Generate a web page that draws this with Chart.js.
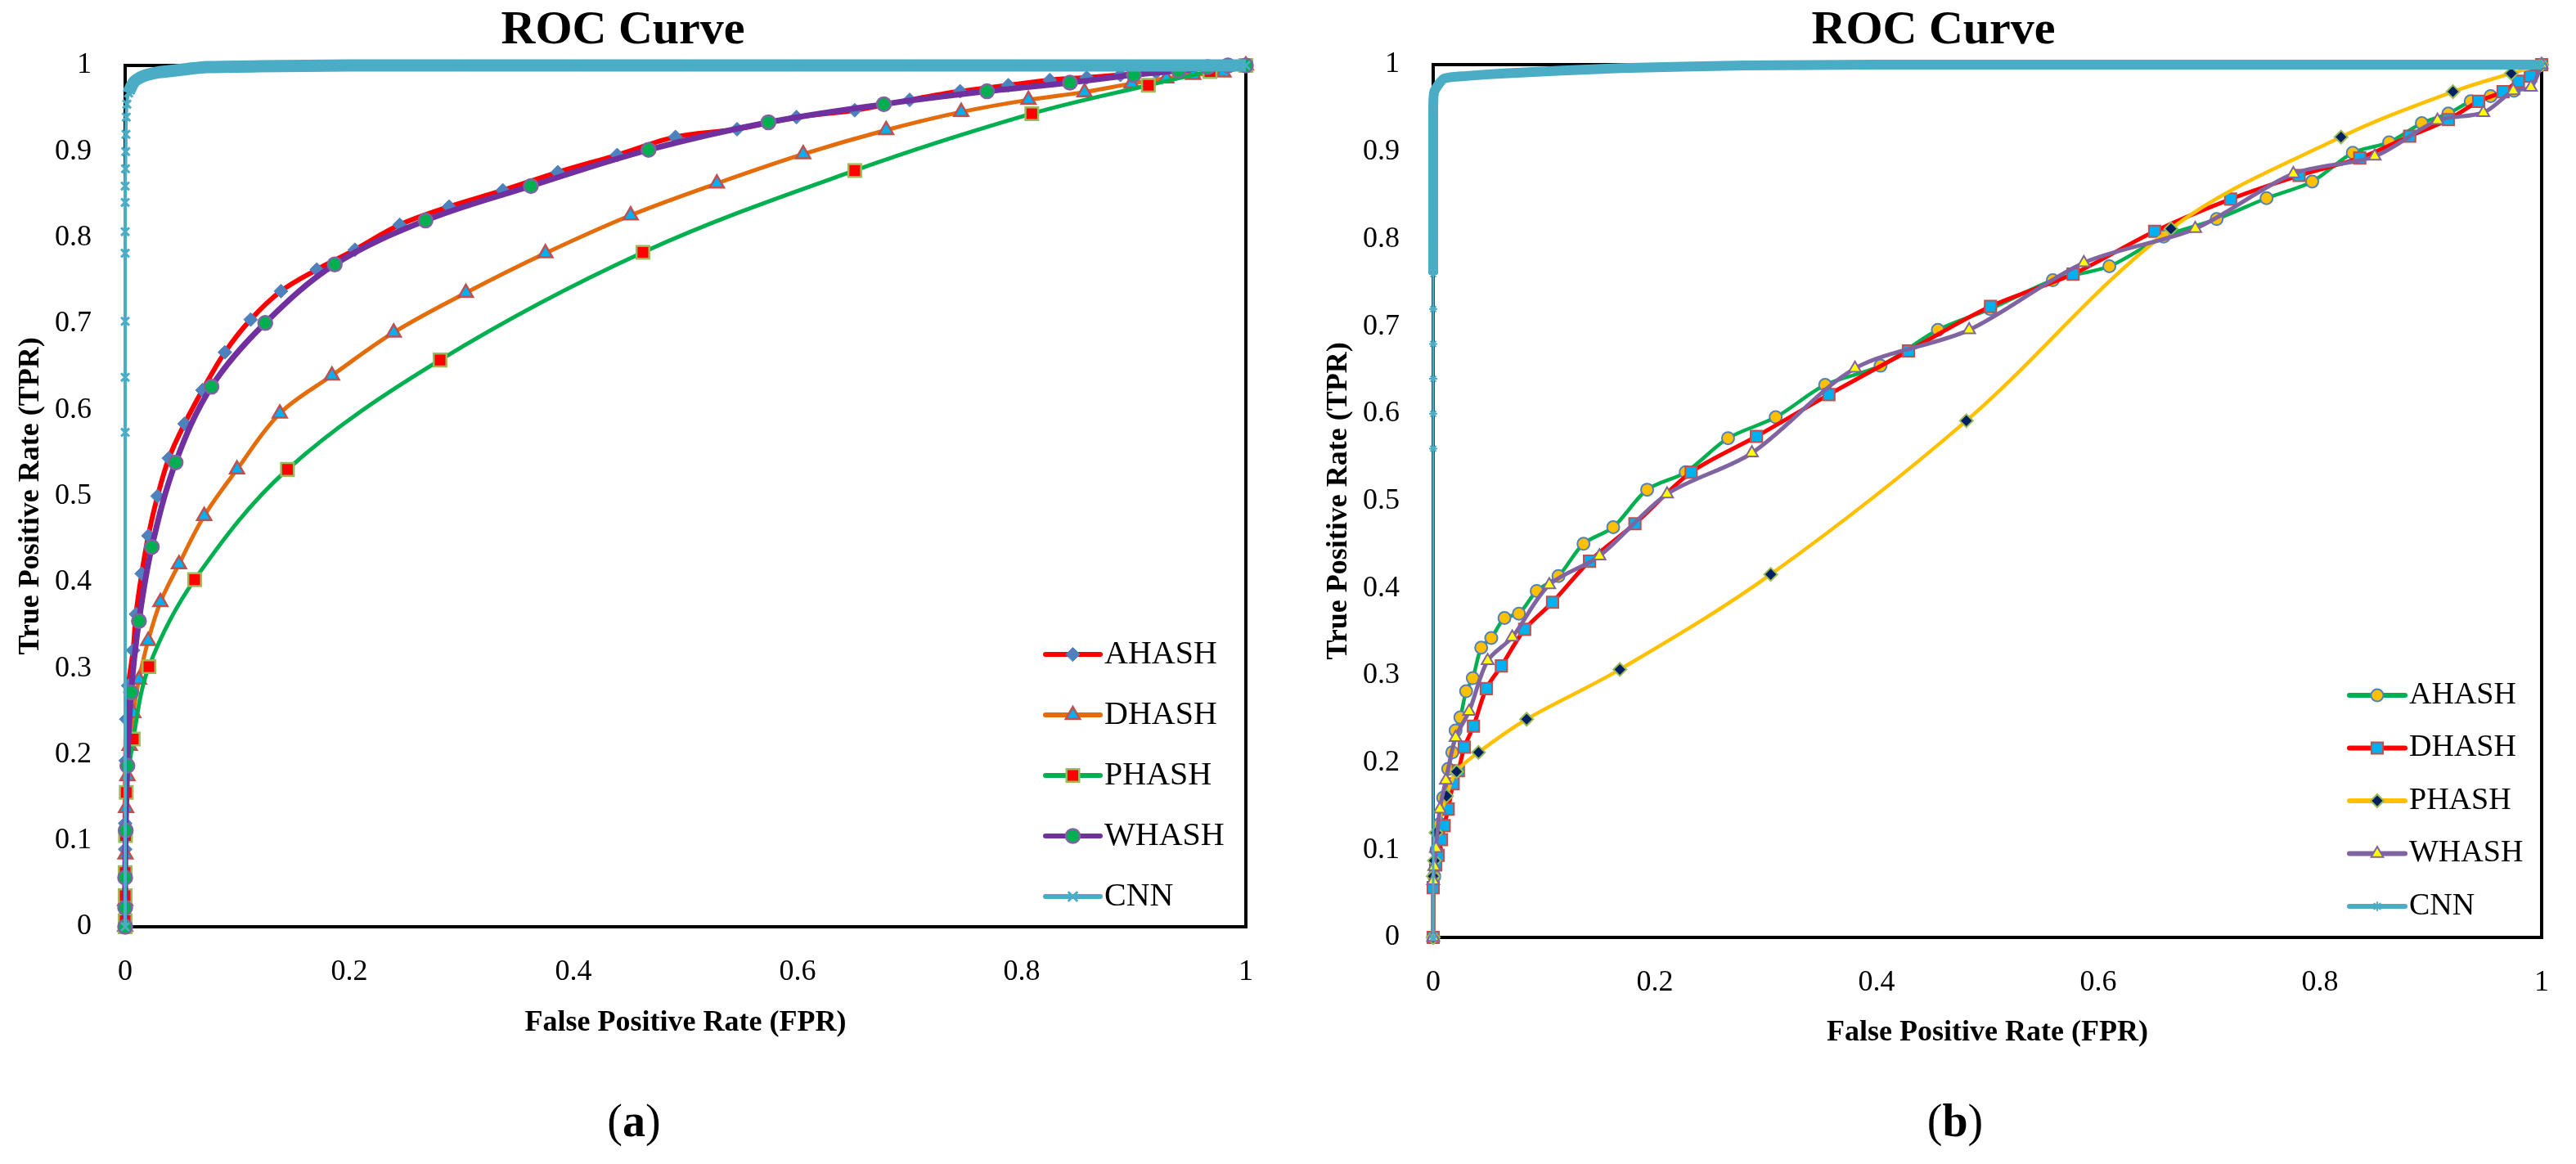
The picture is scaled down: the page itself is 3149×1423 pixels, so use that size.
<!DOCTYPE html>
<html>
<head>
<meta charset="utf-8">
<script src="https://cdn.jsdelivr.net/npm/chart.js@4.4.1/dist/chart.umd.min.js"></script>
<style>
  html, body { margin: 0; padding: 0; background: #fff; }
  body { width: 3149px; height: 1423px; position: relative; overflow: hidden; }
  canvas { position: absolute; top: 0; }
  #chartA { left: 0; }
  #chartB { left: 1610px; }
  .cap { position: absolute; top: 1336px; width: 400px; text-align: center;
         font: 56px "Liberation Serif", serif; line-height: 68px; color: #000; }
</style>
</head>
<body>
<canvas id="chartA" width="1570" height="1272"></canvas>
<canvas id="chartB" width="1540" height="1284"></canvas>
<div class="cap" style="left:575px">(<b>a</b>)</div>
<div class="cap" style="left:2190px">(<b>b</b>)</div>
<script>
// ---- data: [FPR, TPR] pairs ----
const seriesNames = ["AHASH", "DHASH", "PHASH", "WHASH", "CNN"];
const xTickValues = [0, 0.2, 0.4, 0.6, 0.8, 1];
const yTickValues = [0, 0.1, 0.2, 0.3, 0.4, 0.5, 0.6, 0.7, 0.8, 0.9, 1];

// (a)
const aAhash = [[0,0],[0,0.04],[0,0.09],[0,0.12],[0.0005,0.193],[0.001,0.241],[0.0028,0.28],[0.0071,0.321],[0.0097,0.363],[0.0148,0.41],[0.0207,0.454],[0.0289,0.5],[0.039,0.544],[0.053,0.584],[0.069,0.623],[0.089,0.667],[0.112,0.705],[0.139,0.738],[0.171,0.763],[0.205,0.786],[0.245,0.815],[0.289,0.836],[0.337,0.855],[0.386,0.876],[0.439,0.896],[0.491,0.917],[0.546,0.926],[0.599,0.94],[0.651,0.948],[0.7,0.96],[0.745,0.97],[0.788,0.977],[0.825,0.983],[0.858,0.986],[0.888,0.989],[0.92,0.992],[0.95,0.995],[0.975,0.998],[1,1]];
const aDhash = [[0,0],[0,0.03],[0.0003,0.084],[0.0008,0.138],[0.002,0.175],[0.004,0.21],[0.0072,0.248],[0.0123,0.287],[0.0205,0.332],[0.0315,0.377],[0.048,0.421],[0.0705,0.477],[0.0998,0.531],[0.138,0.596],[0.1845,0.64],[0.2396,0.69],[0.304,0.736],[0.375,0.782],[0.451,0.826],[0.528,0.863],[0.605,0.897],[0.679,0.925],[0.746,0.946],[0.806,0.96],[0.856,0.969],[0.898,0.979],[0.929,0.985],[0.953,0.989],[0.98,0.992],[1,1]];
const aPhash = [[0,0],[0,0.007],[0,0.036],[0,0.063],[0.0003,0.106],[0.001,0.156],[0.0072,0.218],[0.0212,0.302],[0.062,0.403],[0.1448,0.531],[0.281,0.658],[0.462,0.783],[0.651,0.878],[0.809,0.944],[0.913,0.977],[0.968,0.993],[1,1]];
const aWhash = [[0,0],[0,0.022],[0,0.057],[0.0005,0.112],[0.002,0.187],[0.0053,0.272],[0.0123,0.355],[0.0238,0.441],[0.045,0.539],[0.077,0.627],[0.125,0.701],[0.187,0.769],[0.268,0.82],[0.362,0.86],[0.467,0.902],[0.574,0.934],[0.677,0.955],[0.769,0.97],[0.843,0.98],[0.9,0.989],[0.94,0.994],[0.966,0.998],[0.984,1],[1,1]];
const aCnn = [[0,0],[0,0.574],[0,0.638],[0,0.703],[0,0.782],[0,0.807],[0,0.841],[0,0.86],[0.0003,0.88],[0.0005,0.9],[0.0007,0.92],[0.001,0.94],[0.0015,0.955],[0.003,0.968],[0.008,0.981],[0.015,0.987],[0.03,0.992],[0.05,0.995],[0.073,0.998],[0.12,0.999],[0.2,1],[0.3,1],[0.4,1],[0.5,1],[0.6,1],[0.7,1],[0.8,1],[0.9,1],[1,1]];

// (b)
const bAhash = [[0,0],[0.001,0.07],[0.003,0.1],[0.006,0.13],[0.009,0.16],[0.0135,0.193],[0.0172,0.212],[0.0202,0.237],[0.0245,0.252],[0.0297,0.282],[0.0357,0.297],[0.0433,0.332],[0.0524,0.343],[0.0643,0.366],[0.0773,0.371],[0.0934,0.397],[0.113,0.414],[0.1356,0.451],[0.1624,0.47],[0.193,0.513],[0.2278,0.533],[0.266,0.572],[0.309,0.596],[0.3536,0.633],[0.4036,0.655],[0.4553,0.696],[0.5024,0.72],[0.559,0.753],[0.61,0.769],[0.659,0.803],[0.7068,0.823],[0.7518,0.847],[0.793,0.866],[0.8296,0.899],[0.8624,0.911],[0.8919,0.933],[0.9158,0.944],[0.936,0.958],[0.954,0.964],[0.975,0.97],[0.99,0.99],[1,1]];
const bDhash = [[0,0],[0,0.057],[0.0022,0.083],[0.0045,0.094],[0.0075,0.112],[0.0099,0.128],[0.0135,0.147],[0.018,0.176],[0.0227,0.191],[0.0281,0.218],[0.0363,0.242],[0.0479,0.285],[0.0615,0.311],[0.0825,0.353],[0.1077,0.384],[0.141,0.431],[0.182,0.474],[0.2327,0.533],[0.2916,0.574],[0.357,0.622],[0.4288,0.672],[0.5028,0.723],[0.5773,0.76],[0.6509,0.809],[0.7194,0.846],[0.7812,0.873],[0.8359,0.893],[0.881,0.918],[0.9158,0.937],[0.9432,0.958],[0.9652,0.969],[0.979,0.981],[0.99,0.987],[1,1]];
const bPhash = [[0,0],[0,0.07],[0.001,0.088],[0.0025,0.12],[0.012,0.162],[0.0211,0.19],[0.0409,0.212],[0.0843,0.25],[0.1684,0.307],[0.3045,0.416],[0.481,0.592],[0.6656,0.812],[0.819,0.917],[0.92,0.969],[0.9726,0.99],[1,1]];
const bWhash = [[0,0],[0,0.065],[0.001,0.081],[0.0025,0.102],[0.006,0.147],[0.0114,0.18],[0.0202,0.229],[0.0324,0.259],[0.0491,0.317],[0.0713,0.344],[0.1047,0.404],[0.15,0.437],[0.211,0.508],[0.2875,0.555],[0.3805,0.652],[0.4835,0.696],[0.587,0.773],[0.6875,0.812],[0.776,0.875],[0.8494,0.895],[0.906,0.936],[0.9474,0.945],[0.9744,0.97],[0.9903,0.974],[1,1]];
const bCnn = [[0,0],[0,0.56],[0,0.6],[0,0.64],[0,0.68],[0,0.72],[0,0.76],[0,0.8],[0,0.84],[0,0.88],[0,0.92],[0,0.95],[0.001,0.969],[0.0097,0.984],[0.03,0.987],[0.064,0.99],[0.169,0.996],[0.281,0.999],[0.4,1],[0.5,1],[0.6,1],[0.7,1],[0.8,1],[0.9,1],[1,1]];

// ---- styling ----
Chart.defaults.font.family = '"Liberation Serif", serif';
Chart.defaults.color = "#000";

const toXY = (arr) => arr.map((p) => ({ x: p[0], y: p[1] }));
const tickText = (v) => String(Math.round(v * 10) / 10);

function drawMarker(ctx, style, x, y, r, fill, stroke, bw) {
  ctx.save();
  ctx.fillStyle = fill;
  ctx.strokeStyle = stroke;
  ctx.lineWidth = bw;
  if (Chart.helpers && Chart.helpers.drawPoint) {
    Chart.helpers.drawPoint(ctx, { pointStyle: style, radius: r, borderWidth: bw, rotation: 0 }, x, y);
  } else {
    ctx.beginPath();
    ctx.arc(x, y, r, 0, Math.PI * 2);
    ctx.fill();
    ctx.stroke();
  }
  ctx.restore();
}

// legend drawn inside the plot, bottom right
const insideLegend = {
  id: "insideLegend",
  afterDatasetsDraw(chart, args, o) {
    const ctx = chart.ctx;
    ctx.save();
    o.order.forEach((di, i) => {
      const ds = chart.data.datasets[di];
      const y = o.top + i * o.gap;
      ctx.strokeStyle = ds.borderColor;
      ctx.lineWidth = o.lineWidth;
      ctx.lineCap = "round";
      ctx.beginPath();
      ctx.moveTo(o.x1, y);
      ctx.lineTo(o.x2, y);
      ctx.stroke();
      drawMarker(ctx, ds.pointStyle, (o.x1 + o.x2) / 2, y, ds.pointRadius,
        ds.pointBackgroundColor, ds.pointBorderColor, ds.pointBorderWidth);
      ctx.fillStyle = "#000";
      ctx.font = o.font;
      ctx.textAlign = "left";
      ctx.textBaseline = "middle";
      ctx.fillText(ds.label, o.textX, y);
    });
    ctx.restore();
  },
};

// box round the plot area
const plotFrame = {
  id: "plotFrame",
  beforeDatasetsDraw(chart) {
    const { ctx, chartArea: a } = chart;
    ctx.save();
    ctx.strokeStyle = "#000";
    ctx.lineWidth = 4;
    ctx.strokeRect(a.left, a.top, a.right - a.left, a.bottom - a.top);
    ctx.restore();
  },
};

function lineSet(label, data, s) {
  const set = {
    label: label,
    data: toXY(data),
    showLine: true,
    borderColor: s.line,
    borderWidth: s.width,
    backgroundColor: s.fill,
    pointStyle: s.marker,
    pointRadius: s.radius,
    pointBackgroundColor: s.fill,
    pointBorderColor: s.edge,
    pointBorderWidth: s.edgeWidth,
    tension: s.tension,
    order: s.order,
    clip: 14,
  };
  if (s.thick) {
    set.segment = {
      borderWidth: (c) => (c.p0.parsed.y >= s.thick.from && c.p1.parsed.y >= s.thick.from ? s.thick.width : s.width),
    };
  }
  return set;
}

function makeChart(id, sets, g) {
  new Chart(document.getElementById(id), {
    type: "scatter",
    data: { datasets: sets },
    options: {
      responsive: false,
      animation: false,
      devicePixelRatio: 1,
      layout: { padding: { left: 0, right: g.padRight, top: 0, bottom: 0 } },
      scales: {
        x: {
          type: "linear",
          min: 0,
          max: 1,
          afterBuildTicks: (s) => { s.ticks = xTickValues.map((v) => ({ value: v })); },
          afterFit: (s) => { s.height = g.xHeight; },
          grid: { display: false, drawTicks: false },
          border: { display: true, color: "#000", width: 4 },
          ticks: { font: { size: 36 }, color: "#000", padding: 34, autoSkip: false, maxRotation: 0, callback: tickText },
          title: {
            display: true,
            text: "False Positive Rate (FPR)",
            font: { size: 36, weight: "bold" },
            color: "#000",
            padding: { top: 0, bottom: 0 },
          },
        },
        y: {
          type: "linear",
          min: 0,
          max: 1,
          afterBuildTicks: (s) => { s.ticks = yTickValues.map((v) => ({ value: v })); },
          afterFit: (s) => { s.width = g.yWidth; },
          grid: { display: false, drawTicks: false },
          border: { display: true, color: "#000", width: 4 },
          ticks: { font: { size: 36 }, color: "#000", padding: 41, autoSkip: false, callback: tickText },
          title: {
            display: true,
            text: "True Positive Rate (TPR)",
            font: { size: 36, weight: "bold" },
            color: "#000",
            padding: { top: g.yTitlePad, bottom: 0 },
          },
        },
      },
      plugins: {
        legend: { display: false },
        tooltip: { enabled: false },
        title: {
          display: true,
          text: "ROC Curve",
          font: { size: 58, weight: "bold" },
          color: "#000",
          padding: { top: 3, bottom: g.titleGap },
        },
        insideLegend: g.legend,
      },
    },
    plugins: [plotFrame, insideLegend],
  });
}

// (a)
makeChart("chartA", [
  lineSet(seriesNames[0], aAhash, { line: "#FF0000", width: 6, marker: "rectRot", radius: 8.5, fill: "#4F81BD", edge: "#4F81BD", edgeWidth: 1, tension: 0.35, order: 4 }),
  lineSet(seriesNames[1], aDhash, { line: "#E46C0A", width: 5, marker: "triangle", radius: 10, fill: "#00B0F0", edge: "#C0504D", edgeWidth: 2.5, tension: 0.35, order: 3 }),
  lineSet(seriesNames[2], aPhash, { line: "#00B050", width: 5, marker: "rect", radius: 11, fill: "#FF0000", edge: "#9BBB59", edgeWidth: 2.5, tension: 0.35, order: 2 }),
  lineSet(seriesNames[3], aWhash, { line: "#7030A0", width: 7, marker: "circle", radius: 8.5, fill: "#00B050", edge: "#8064A2", edgeWidth: 2.5, tension: 0.35, order: 1 }),
  lineSet(seriesNames[4], aCnn, { line: "#4BACC6", width: 4, marker: "crossRot", radius: 7, fill: "#4BACC6", edge: "#4BACC6", edgeWidth: 3, tension: 0.2, order: 0, thick: { from: 0.96, width: 15 } }),
], {
  padRight: 47, xHeight: 139, yWidth: 153, yTitlePad: 16, titleGap: 7.4,
  legend: { order: [0, 1, 2, 3, 4], x1: 1278, x2: 1345, textX: 1350, top: 800, gap: 74, lineWidth: 6, font: '40px "Liberation Serif", serif' },
});

// (b)
makeChart("chartB", [
  lineSet(seriesNames[0], bAhash, { line: "#00B050", width: 4.5, marker: "circle", radius: 7.5, fill: "#FFC000", edge: "#4F81BD", edgeWidth: 2, tension: 0.3, order: 4 }),
  lineSet(seriesNames[1], bDhash, { line: "#FF0000", width: 5, marker: "rect", radius: 10, fill: "#00B0F0", edge: "#C0504D", edgeWidth: 2, tension: 0.3, order: 3 }),
  lineSet(seriesNames[2], bPhash, { line: "#FFC000", width: 4.5, marker: "rectRot", radius: 8, fill: "#002060", edge: "#9BBB59", edgeWidth: 2, tension: 0.35, order: 2 }),
  lineSet(seriesNames[3], bWhash, { line: "#8064A2", width: 5, marker: "triangle", radius: 8.5, fill: "#FFFF00", edge: "#8064A2", edgeWidth: 2, tension: 0.3, order: 1 }),
  lineSet(seriesNames[4], bCnn, { line: "#4BACC6", width: 3, marker: "star", radius: 5, fill: "#4BACC6", edge: "#4BACC6", edgeWidth: 2, tension: 0.2, order: 0, thick: { from: 0.75, width: 12 } }),
], {
  padRight: 33, xHeight: 138, yWidth: 142, yTitlePad: 5, titleGap: 6.4,
  legend: { order: [0, 1, 2, 3, 4], x1: 1262, x2: 1330, textX: 1335, top: 850, gap: 64.5, lineWidth: 6, font: '38px "Liberation Serif", serif' },
});
</script>
</body>
</html>
